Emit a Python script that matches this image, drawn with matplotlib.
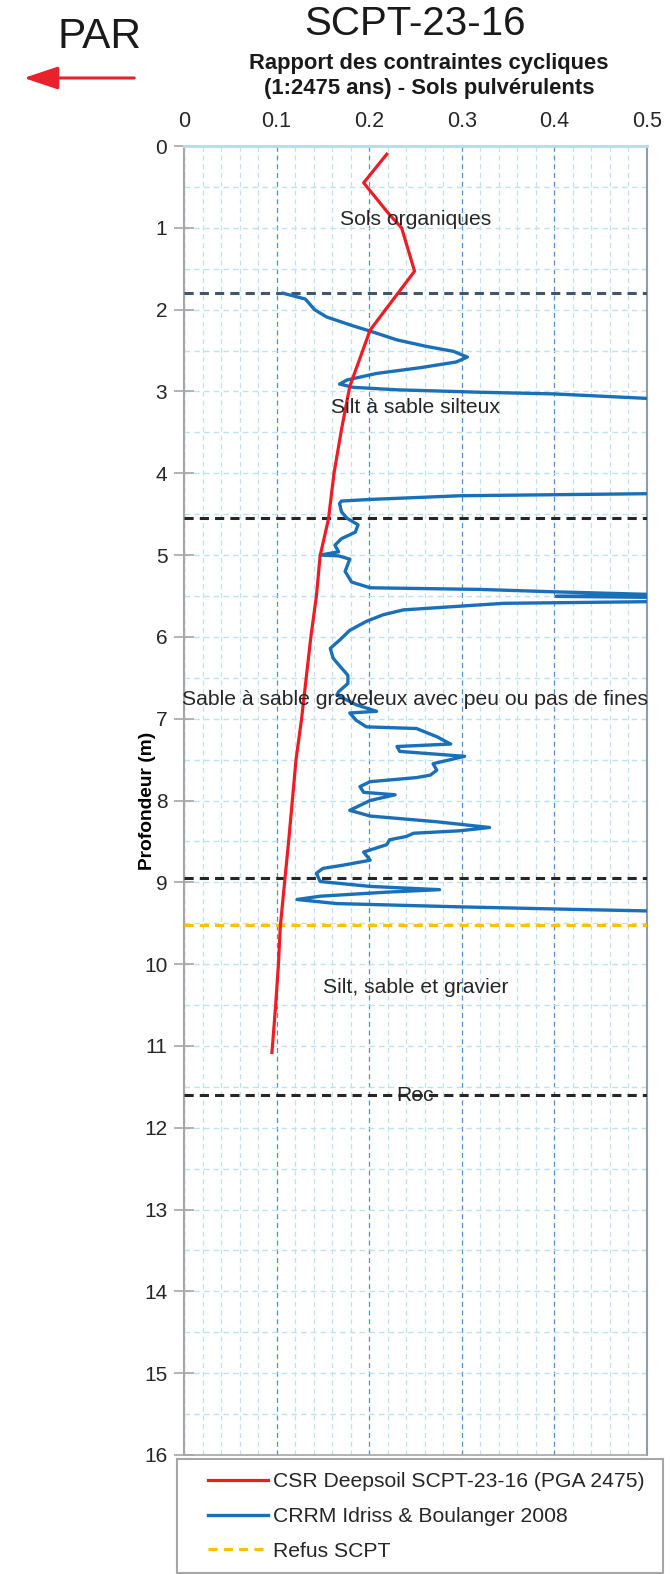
import matplotlib
matplotlib.use("Agg")
import matplotlib.pyplot as plt
from matplotlib.patches import FancyArrowPatch, Rectangle
from matplotlib.ticker import MultipleLocator

plt.rcParams['font.family'] = ['Liberation Sans', 'DejaVu Sans']

# CSR profile (depth in m, ratio)
csr_depth = [0.10, 0.45, 0.84, 1.00, 1.53, 2.25, 2.94, 3.47, 4.00, 4.56, 5.01, 5.50,
             6.00, 6.50, 7.00, 7.50, 8.00, 8.50, 8.96, 9.54, 10.00, 10.50, 11.08]
csr_value = [0.219, 0.194, 0.222, 0.235, 0.249, 0.201, 0.179, 0.170, 0.162, 0.156, 0.147, 0.143,
             0.137, 0.132, 0.127, 0.121, 0.117, 0.113, 0.109, 0.104, 0.102, 0.099, 0.095]

# CRR profile (Idriss & Boulanger 2008), values above 0.5 run off the chart
crr_depth = [1.80, 1.87, 2.00, 2.09, 2.20, 2.27, 2.37, 2.45, 2.51, 2.58, 2.64, 2.71, 2.78, 2.86,
             2.91, 2.95, 2.98, 3.01, 3.03, 3.085, 3.15, 3.60, 4.20,
             4.25, 4.275, 4.32, 4.34, 4.37, 4.47, 4.55, 4.63, 4.72, 4.80, 4.88, 4.96, 5.00, 5.01,
             5.05, 5.20, 5.33, 5.40, 5.42, 5.45, 5.48, 5.49, 5.505, 5.52, 5.55, 5.57,
             5.59, 5.67, 5.73, 5.81, 5.92, 6.04, 6.14, 6.26, 6.34, 6.47, 6.57, 6.67, 6.71, 6.83,
             6.91, 6.93, 7.02, 7.10, 7.12, 7.22, 7.31, 7.34, 7.40, 7.46, 7.55, 7.63, 7.69, 7.72,
             7.77, 7.83, 7.90, 7.93, 8.00, 8.12, 8.19, 8.26, 8.33, 8.37, 8.40, 8.44, 8.48, 8.54,
             8.63, 8.73, 8.79, 8.83, 8.89, 8.99, 9.05, 9.09, 9.12, 9.17, 9.21, 9.26, 9.30, 9.33,
             9.35, 9.37]
crr_value = [0.107, 0.131, 0.141, 0.154, 0.183, 0.203, 0.230, 0.262, 0.291, 0.306, 0.294, 0.255,
             0.208, 0.176, 0.168, 0.183, 0.230, 0.320, 0.399, 0.500, 0.62, 0.90, 0.62,
             0.500, 0.298, 0.201, 0.170, 0.168, 0.170, 0.176, 0.188, 0.185, 0.170, 0.163, 0.167,
             0.147, 0.167, 0.179, 0.174, 0.181, 0.201, 0.320, 0.402, 0.500, 0.53, 0.402, 0.53,
             0.56, 0.500,
             0.345, 0.237, 0.215, 0.197, 0.179, 0.168, 0.158, 0.161, 0.167, 0.177, 0.177, 0.167,
             0.165, 0.186, 0.208, 0.179, 0.186, 0.197, 0.251, 0.273, 0.288, 0.230, 0.233, 0.303,
             0.269, 0.273, 0.266, 0.251, 0.201, 0.190, 0.194, 0.228, 0.201, 0.179, 0.201, 0.273,
             0.330, 0.298, 0.248, 0.240, 0.222, 0.219, 0.194, 0.201, 0.172, 0.150, 0.143, 0.147,
             0.201, 0.276, 0.219, 0.147, 0.122, 0.165, 0.298, 0.417, 0.501, 0.56]

# soil layer boundaries and labels
layer_bounds = [1.80, 4.55, 8.95, 11.60]
layer_colors = ['#44546A', '#262626', '#262626', '#262626']
refus_depth = 9.52
layer_names = ['Sols organiques', 'Silt à sable silteux',
               'Sable à sable graveleux avec peu ou pas de fines',
               'Silt, sable et gravier', 'Roc']
layer_label_depth = [0.90, 3.20, 6.76, 10.28, 11.60]
x_ticklabels = ['0', '0.1', '0.2', '0.3', '0.4', '0.5']

W, H = 670, 1574
fig = plt.figure(figsize=(W / 100, H / 100), dpi=100)
ax = fig.add_axes([184 / W, 1 - 1455 / H, (647 - 184) / W, (1455 - 146) / H])

ax.set_xlim(0, 0.5)
ax.set_ylim(16, 0)
ax.xaxis.tick_top()
ax.set_xticks([0, 0.1, 0.2, 0.3, 0.4, 0.5])
ax.set_xticklabels(x_ticklabels)
ax.xaxis.set_minor_locator(MultipleLocator(0.02))
ax.yaxis.set_major_locator(MultipleLocator(1))
ax.yaxis.set_minor_locator(MultipleLocator(0.5))
ax.tick_params(axis='x', which='both', length=0, pad=10, labelsize=15.5, labelcolor='#262626')
ax.tick_params(axis='y', which='major', direction='inout', length=14, width=1.2,
               color='#A6A6A6', labelsize=15, labelcolor='#262626', pad=5)
ax.tick_params(axis='y', which='minor', length=0)

ax.grid(True, axis='x', which='minor', color='#BFE2EE', linestyle=(0, (4, 3)), linewidth=0.9)
ax.grid(True, axis='x', which='major', color='#4F8FD0', linestyle=(0, (4, 3)), linewidth=0.9)
ax.grid(True, axis='y', which='both', color='#BFE2EE', linestyle=(0, (4, 3)), linewidth=1.0)
ax.set_axisbelow(True)

ax.spines['left'].set_color('#A6A6A6')
ax.spines['left'].set_linewidth(1.5)
ax.spines['top'].set_color('#B4DCEA')
ax.spines['top'].set_linewidth(2.0)
ax.spines['right'].set_color('#8C9DB0')
ax.spines['right'].set_linewidth(1.5)
ax.spines['bottom'].set_color('#A6A6A6')
ax.spines['bottom'].set_linewidth(1.2)

for d, c in zip(layer_bounds, layer_colors):
    ax.axhline(d, color=c, linestyle=(0, (3, 2)), linewidth=2.2, zorder=3)
refus = ax.axhline(refus_depth, color='#FFC000', linestyle=(0, (3, 2)), linewidth=2.2,
                   zorder=3, label='Refus SCPT')

for name, d in zip(layer_names, layer_label_depth):
    ax.text(0.25, d, name, ha='center', va='center', fontsize=15.2, color='#262626', zorder=6)

crr_line, = ax.plot(crr_value, crr_depth, color='#1A70B8', linewidth=2.4, zorder=4,
                    label='CRRM Idriss & Boulanger 2008')
csr_line, = ax.plot(csr_value, csr_depth, color='#EE1C25', linewidth=2.3, zorder=5,
                    label='CSR Deepsoil SCPT-23-16 (PGA 2475)')

ax.set_ylabel('Profondeur (m)', fontsize=13.8, fontweight='bold', color='#000000')
ax.yaxis.set_label_coords((156 - 184) / 463, 0.5)

# titles
fig.text(415 / W, 1 - 24 / H, 'SCPT-23-16', ha='center', va='center', fontsize=29, color='#1a1a1a')
fig.text(429 / W, 1 - 76 / H, 'Rapport des contraintes cycliques\n(1:2475 ans) - Sols pulvérulents',
         ha='center', va='center', fontsize=15.8, fontweight='bold', color='#1a1a1a',
         linespacing=1.2)
fig.text(100 / W, 1 - 37 / H, 'PAR', ha='center', va='center', fontsize=30.5, color='#1a1a1a')
arrow = FancyArrowPatch((137 / W, 1 - 78 / H), (21 / W, 1 - 78 / H), transform=fig.transFigure,
                        arrowstyle='-|>,head_length=2.1,head_width=0.7', mutation_scale=10,
                        color='#E8212B', linewidth=2.2)
fig.add_artist(arrow)

# legend below the plot
fig.add_artist(Rectangle((177 / W, 1 - 1573 / H), (663 - 177) / W, (1573 - 1459) / H,
                         transform=fig.transFigure, fill=False, edgecolor='#A6A6A6', linewidth=1.5))
fig.legend(handles=[csr_line, crr_line, refus], loc='upper left',
           bbox_to_anchor=(200 / W, 1 - 1464 / H), frameon=False, fontsize=15.2,
           handlelength=2.8, handletextpad=0.25, labelspacing=0.74, borderaxespad=0,
           labelcolor='#262626')

fig.savefig('out.png', dpi=100)
